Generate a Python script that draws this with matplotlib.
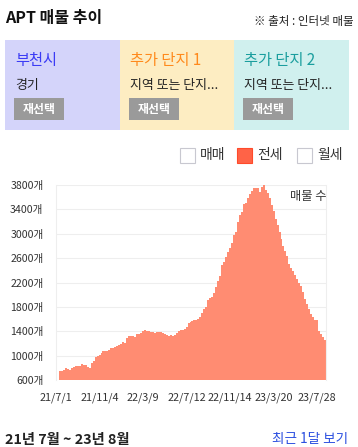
import matplotlib
matplotlib.use("Agg")
import matplotlib.pyplot as plt
from matplotlib.patches import Rectangle
import numpy as np

plt.rcParams['font.family'] = ['Noto Sans CJK KR', 'DejaVu Sans']

W, H = 358, 447

# Data: listing counts (전세), roughly 2 px per step in the reference
counts = [
    750, 750, 760, 790, 780, 770, 800, 813, 830, 830,
    830, 862, 846, 846, 820, 800, 880, 917, 983, 990,
    1010, 1050, 1076, 1076, 1076, 1100, 1120, 1120, 1140, 1158,
    1170, 1190, 1228, 1210, 1283, 1320, 1327, 1327, 1310, 1350,
    1360, 1376, 1400, 1420, 1405, 1400, 1393, 1380, 1366, 1390,
    1393, 1390, 1370, 1350, 1340, 1327, 1335, 1327, 1340, 1366,
    1400, 1420, 1420, 1430, 1475, 1530, 1557, 1568, 1585, 1585,
    1600, 1640, 1694, 1760, 1800, 1920, 1945, 1960, 2022, 2120,
    2230, 2310, 2487, 2541, 2623, 2700, 2760, 2850, 2980, 3033,
    3197, 3300, 3360, 3483, 3510, 3580, 3650, 3700, 3745, 3745,
    3745, 3680, 3770, 3800, 3720, 3663, 3590, 3480, 3380, 3240,
    3150, 3030, 2920, 2800, 2720, 2640, 2500, 2430, 2390, 2330,
    2260, 2200, 2140, 2050, 1930, 1850, 1760, 1690, 1635, 1590,
    1585, 1400, 1350, 1310, 1260,
]
date_labels = ['21/7/1', '21/11/4', '22/3/9', '22/7/12', '22/11/14', '23/3/20', '23/7/28']
y_ticks = [600, 1000, 1400, 1800, 2200, 2600, 3000, 3400, 3800]

panel_titles = ['부천시', '추가 단지 1', '추가 단지 2']
panel_subs = ['경기', '지역 또는 단지...', '지역 또는 단지...']
panel_bg = ['#d4d4fa', '#fdedc2', '#d0f0ee']
panel_fg = ['#3b3bf5', '#ff8a1c', '#1a9e9e']

legend_names = ['매매', '전세', '월세']


def fx(x):
    return x / W


def fy(y):
    return 1 - y / H


fig = plt.figure(figsize=(W / 100, H / 100), dpi=100)

# header
fig.text(fx(5), fy(18), 'APT 매물 추이', fontsize=11.5, fontweight='bold',
         ha='left', va='center', color='#111111')
fig.text(fx(354), fy(22), '※ 출처 : 인터넷 매물', fontsize=8.3, ha='right',
         va='center', color='#222222')

# region panels
px0 = [5, 120, 234]
pw = [115, 114, 115]
for i in range(3):
    fig.patches.append(Rectangle((fx(px0[i]), fy(130)), pw[i] / W, 90 / H,
                                 transform=fig.transFigure, facecolor=panel_bg[i],
                                 edgecolor='none', zorder=0))
    fig.text(fx(px0[i] + 10), fy(61), panel_titles[i], fontsize=11,
             color=panel_fg[i], ha='left', va='center',
             fontweight='medium' if i > 0 else 'normal')
    fig.text(fx(px0[i] + 10), fy(85), panel_subs[i], fontsize=9.3,
             color='#222222', ha='left', va='center')
    fig.patches.append(Rectangle((fx(px0[i] + 9), fy(120)), 50 / W, 22 / H,
                                 transform=fig.transFigure, facecolor='#9a9a9a',
                                 edgecolor='none', zorder=1))
    fig.text(fx(px0[i] + 34), fy(109), '재선택', fontsize=8.6, color='white',
             fontweight='bold', ha='center', va='center', zorder=2)

# legend
lx = [180, 237, 297]
for i, name in enumerate(legend_names):
    on = (i == 1)
    fig.patches.append(Rectangle((fx(lx[i]), fy(163)), 15 / W, 15 / H,
                                 transform=fig.transFigure,
                                 facecolor='#ff6347' if on else 'white',
                                 edgecolor='#ff4a2a' if on else '#c8c8d0',
                                 linewidth=0.8))
    fig.text(fx(lx[i] + 20), fy(155), name, fontsize=10, color='#333333',
             ha='left', va='center')

# chart
ax = fig.add_axes([fx(56), fy(380), 270 / W, 195 / H])
x = np.arange(len(counts))
ax.bar(x, counts, width=1.0, align='edge', color='#ff8c72', linewidth=0, zorder=2)
ax.set_xlim(0, len(counts))
ax.set_ylim(600, 3800)
ax.set_yticks(y_ticks)
ax.set_yticklabels([f'{v}개' for v in y_ticks], fontsize=7.6, color='#333333')
ax.yaxis.grid(True, color='#eeeeee', linewidth=0.8, zorder=0)
ax.tick_params(axis='y', length=0, pad=9)
ax.set_xticks(-1.5 + 22 * np.arange(len(date_labels)))
ax.set_xticklabels(date_labels, fontsize=7.8, color='#333333')
ax.tick_params(axis='x', length=0, pad=9)
for s in ['top', 'bottom']:
    ax.spines[s].set_visible(False)
for s in ['left', 'right']:
    ax.spines[s].set_color('#eeeeee')
    ax.spines[s].set_linewidth(0.8)
ax.text(1.0, 0.94, '매물 수', transform=ax.transAxes, fontsize=8.8,
        color='#333333', ha='right', va='center')

# footer
fig.text(fx(5), fy(440), '21년 7월 ~ 23년 8월', fontsize=10.3, fontweight='bold',
         color='#222222', ha='left', va='center')
fig.text(fx(348), fy(439), '최근 1달 보기', fontsize=9.8, color='#2b4fe0',
         ha='right', va='center')

fig.savefig('out.png', dpi=100)
plt.close(fig)
